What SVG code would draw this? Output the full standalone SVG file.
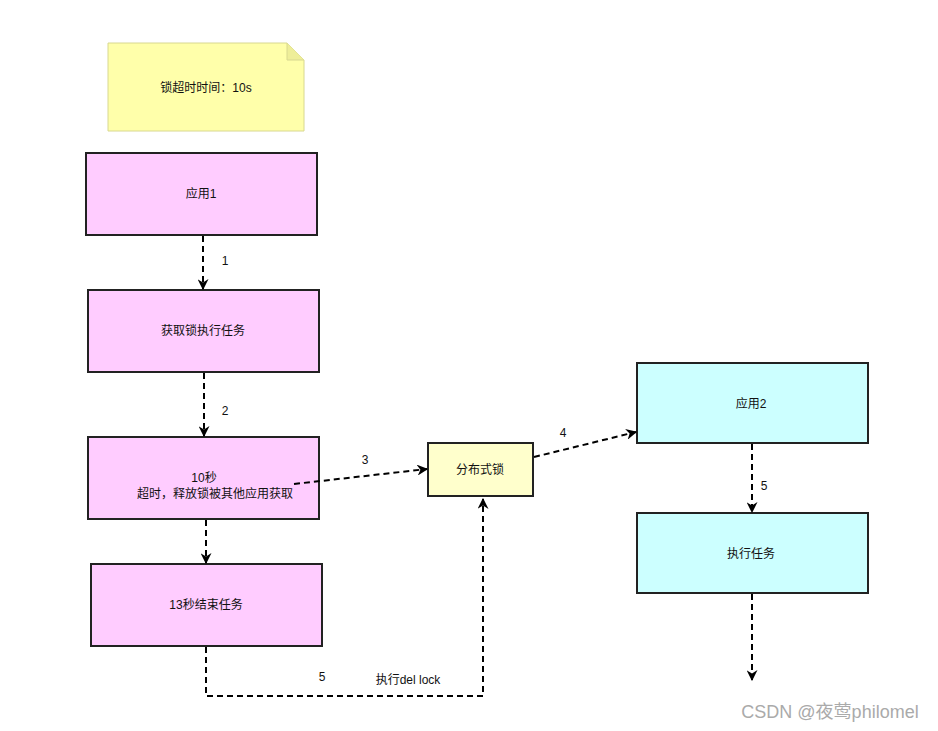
<svg xmlns="http://www.w3.org/2000/svg" width="938" height="731" viewBox="0 0 938 731">
<defs>
<style>
text{font-family:"Liberation Sans","Noto Sans CJK SC",sans-serif;font-size:12px;fill:#111;text-anchor:middle;dominant-baseline:central}
.box{stroke:#222;stroke-width:2}
.p{fill:#ffccff}
.c{fill:#ccffff}
.y{fill:#ffffcc}
.e{fill:none;stroke:#000;stroke-width:2;stroke-dasharray:6 4}
</style>
<marker id="ah" viewBox="0 0 10 10" refX="9" refY="5" markerWidth="11" markerHeight="11" orient="auto" markerUnits="userSpaceOnUse">
<path d="M0,0 L10,5 L0,10 L3,5 Z" fill="#000"/>
</marker>
</defs>
<rect width="938" height="731" fill="#fff"/>
<g id="note">
<path d="M108,43 H287 L304,60 V131 H108 Z" fill="#ffffaa" stroke="#d8d890" stroke-width="1"/>
<path d="M287,43 V60 H304" fill="#eeee99" stroke="#d8d890" stroke-width="1"/>
<text x="206" y="88">锁超时时间：10s</text>
</g>
<g id="app1"><rect class="box p" x="86" y="153" width="231" height="82"/><text x="201" y="194">应用1</text></g>
<g id="getlock"><rect class="box p" x="88" y="290" width="231" height="82"/><text x="203" y="331">获取锁执行任务</text></g>
<g id="timeout"><rect class="box p" x="88" y="437" width="231" height="82"/><text x="204" y="478">10秒</text><text x="215" y="494">超时，释放锁被其他应用获取</text></g>
<g id="end13"><rect class="box p" x="91" y="564" width="231" height="82"/><text x="206" y="605">13秒结束任务</text></g>
<g id="dlock"><rect class="box y" x="428" y="443" width="105" height="53"/><text x="480" y="470">分布式锁</text></g>
<g id="app2"><rect class="box c" x="637" y="363" width="231" height="80"/><text x="751" y="404">应用2</text></g>
<g id="task"><rect class="box c" x="637" y="513" width="231" height="80"/><text x="751" y="554">执行任务</text></g>
<g id="connectors">
<path class="e" d="M203,236 V289" marker-end="url(#ah)"/>
<path class="e" d="M204,373 V436" marker-end="url(#ah)"/>
<path class="e" d="M294,484 L427,469" marker-end="url(#ah)"/>
<path class="e" d="M534,457 L636,432" marker-end="url(#ah)"/>
<path class="e" d="M752,444 V512" marker-end="url(#ah)"/>
<path class="e" d="M752,594 V680" marker-end="url(#ah)"/>
<path class="e" d="M206,520 V563" marker-end="url(#ah)"/>
<path class="e" d="M206,647 V696 H483 V499" marker-end="url(#ah)"/>
<text x="225" y="261">1</text>
<text x="225" y="411">2</text>
<text x="365" y="460">3</text>
<text x="563" y="433">4</text>
<text x="764" y="486">5</text>
<text x="322" y="677">5</text>
<text x="408" y="680">执行del lock</text>
</g>
<text x="830" y="712" style="font-size:18px;fill:#aaa">CSDN @夜莺philomel</text>
</svg>
